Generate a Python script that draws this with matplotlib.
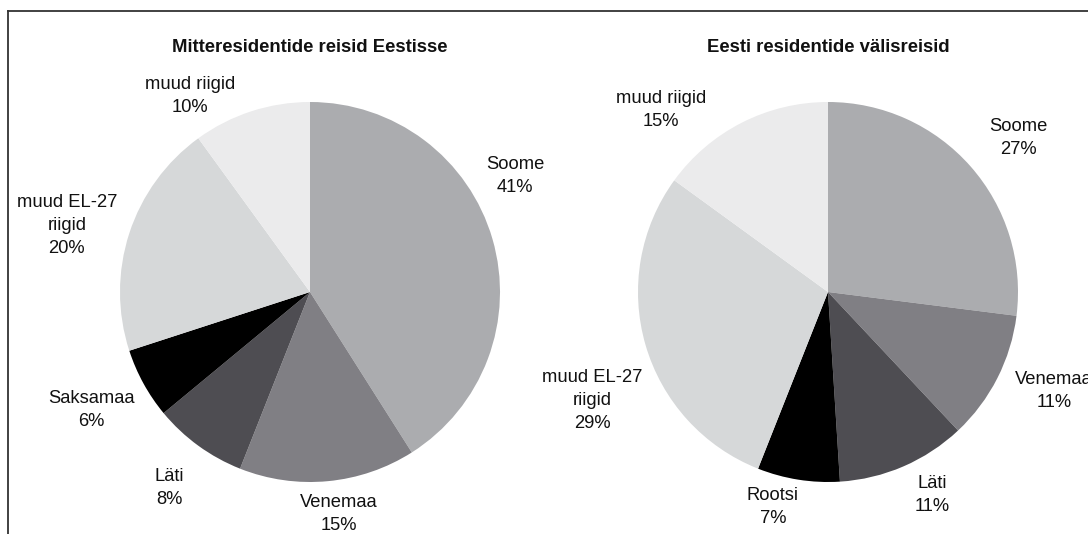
import matplotlib.pyplot as plt
from matplotlib.lines import Line2D

plt.rcParams['font.family'] = ['Liberation Sans', 'DejaVu Sans']

# andmed
labels_1 = ["Soome", "Venemaa", "Läti", "Saksamaa", "muud EL-27\nriigid", "muud riigid"]
values_1 = [41, 15, 8, 6, 20, 10]
title_1 = "Mitteresidentide reisid Eestisse"

labels_2 = ["Soome", "Venemaa", "Läti", "Rootsi", "muud EL-27\nriigid", "muud riigid"]
values_2 = [27, 11, 11, 7, 29, 15]
title_2 = "Eesti residentide välisreisid"

colors = ["#abacaf", "#807f84", "#4e4d52", "#000000", "#d6d8d9", "#ebebec"]

# label positions in radius units, relative to the pie centre
lab_pos_1 = [(1.08, 0.61), (0.15, -1.17), (-0.74, -1.03), (-1.15, -0.62), (-1.28, 0.35), (-0.63, 1.03)]
lab_pos_2 = [(1.0, 0.81), (1.19, -0.52), (0.55, -1.07), (-0.29, -1.13), (-1.24, -0.57), (-0.88, 0.96)]

W, H = 1088, 534
R = 190

fig = plt.figure(figsize=(W / 100, H / 100), dpi=100)
ax = fig.add_axes([0, 0, 1, 1])


def draw_pie(cx, cy, values, labels, pos, title):
    ax.pie(values, colors=colors, startangle=90, counterclock=False,
           center=(cx, cy), radius=R, wedgeprops=dict(linewidth=0))
    for lab, v, (ux, uy) in zip(labels, values, pos):
        ax.text(cx + ux * R, cy + uy * R, f"{lab}\n{v}%", ha="center", va="center",
                fontsize=13.2, linespacing=1.45, color="#111111")
    ax.text(cx, H - 47, title, ha="center", va="center", fontsize=13.3,
            fontweight="bold", color="#111111")


draw_pie(310, H - 292, values_1, labels_1, lab_pos_1, title_1)
draw_pie(828, H - 292, values_2, labels_2, lab_pos_2, title_2)

ax.set_xlim(0, W)
ax.set_ylim(0, H)
ax.set_aspect("equal")
ax.axis("off")

# frame (top and left edges)
fig.add_artist(Line2D([8 / W, 1], [1 - 11 / H, 1 - 11 / H], color="#333333", lw=1.3))
fig.add_artist(Line2D([8 / W, 8 / W], [0, 1 - 11 / H], color="#333333", lw=1.3))

fig.savefig("out.png", dpi=100)
